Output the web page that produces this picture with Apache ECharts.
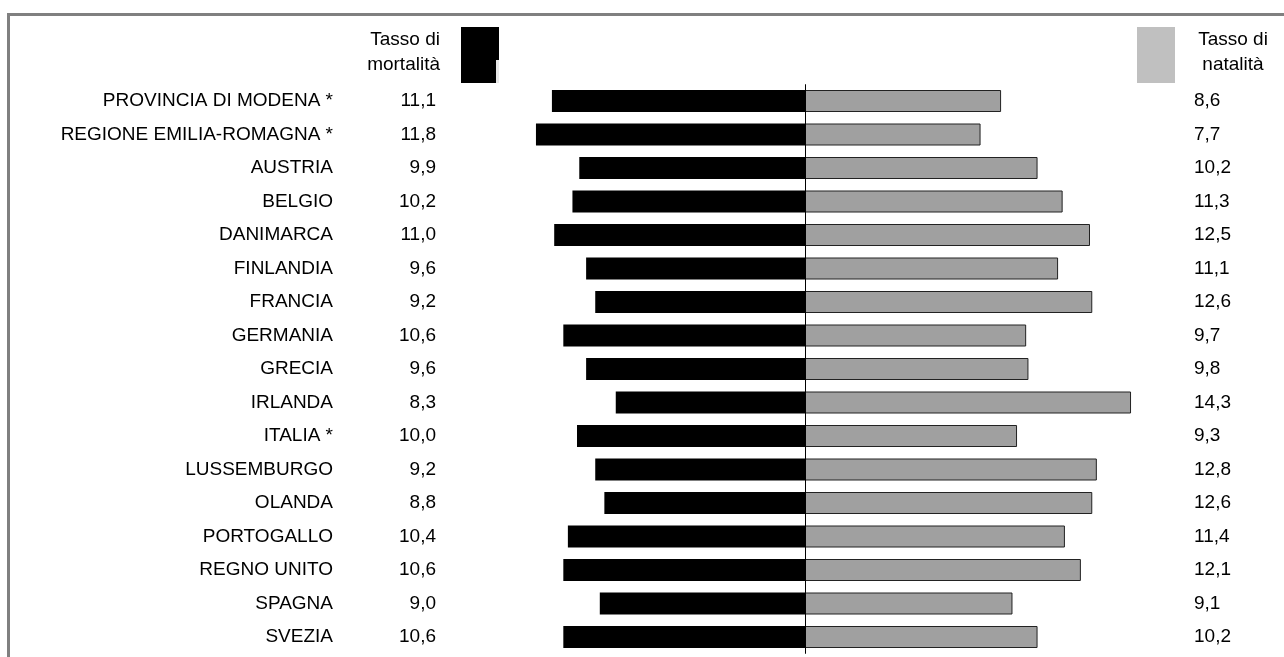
<!DOCTYPE html>
<html>
<head>
<meta charset="utf-8">
<script src="https://cdn.jsdelivr.net/npm/echarts@6/dist/echarts.min.js"></script>
<style>
html,body{margin:0;padding:0;background:#fff;}
#chart{width:1284px;height:657px;}
</style>
</head>
<body>
<div id="chart"></div>
<script>
const countries = ['PROVINCIA DI MODENA *','REGIONE EMILIA-ROMAGNA *','AUSTRIA','BELGIO','DANIMARCA','FINLANDIA','FRANCIA','GERMANIA','GRECIA','IRLANDA','ITALIA *','LUSSEMBURGO','OLANDA','PORTOGALLO','REGNO UNITO','SPAGNA','SVEZIA'];
const mortality = [11.1,11.8,9.9,10.2,11.0,9.6,9.2,10.6,9.6,8.3,10.0,9.2,8.8,10.4,10.6,9.0,10.6];
const natality = [8.6,7.7,10.2,11.3,12.5,11.1,12.6,9.7,9.8,14.3,9.3,12.8,12.6,11.4,12.1,9.1,10.2];
const headerMort = 'Tasso di\nmortalità';
const headerNat = 'Tasso di\nnatalità';

const FONT = "'Liberation Sans', Arial, sans-serif";
const FS = 19;
const fmt = v => v.toFixed(1).replace('.', ',');

const chart = echarts.init(document.getElementById('chart'), null, {renderer: 'canvas'});
const catAxis = (extra) => Object.assign({
  type: 'category', data: countries, inverse: true,
  axisLine: {show: false}, axisTick: {show: false}, splitLine: {show: false}
}, extra);

chart.setOption({
  animation: false,
  backgroundColor: '#fff',
  grid: {left: 463, right: 137, top: 84.25, bottom: 3.25},
  xAxis: {type: 'value', min: -15, max: 15, show: false},
  yAxis: [
    catAxis({position: 'left', axisLabel: {margin: 130, fontSize: FS, fontFamily: FONT, color: '#000'}}),
    catAxis({position: 'left', axisLabel: {margin: 27, fontSize: FS, fontFamily: FONT, color: '#000',
      formatter: (v, i) => fmt(mortality[i])}}),
    catAxis({position: 'right', axisLabel: {margin: 47, fontSize: FS, fontFamily: FONT, color: '#000', align: 'left',
      formatter: (v, i) => fmt(natality[i])}})
  ],
  series: [
    {
      name: 'Tasso di mortalità', type: 'bar', yAxisIndex: 0, barWidth: 22, barGap: '-100%',
      data: mortality.map(v => -v),
      itemStyle: {color: '#000'}
    },
    {
      name: 'Tasso di natalità', type: 'bar', yAxisIndex: 0, barWidth: 22,
      data: natality,
      itemStyle: {color: '#a0a0a0', borderColor: '#222', borderWidth: 1},
      markLine: {
        silent: true, symbol: 'none', label: {show: false},
        lineStyle: {color: '#000', width: 1, type: 'solid'},
        data: [{xAxis: 0}]
      }
    }
  ],
  graphic: [
    {type: 'polyline', shape: {points: [[8.5, 657], [8.5, 14.5], [1284, 14.5]]},
      style: {stroke: '#808080', lineWidth: 3, fill: null}},
    {type: 'rect', shape: {x: 461, y: 27, width: 38, height: 56}, style: {fill: '#000'}},
    {type: 'rect', shape: {x: 496, y: 60, width: 3, height: 23}, style: {fill: '#e8e8e8'}},
    {type: 'rect', shape: {x: 1137, y: 27, width: 38, height: 56}, style: {fill: '#c0c0c0'}},
    {type: 'text', x: 440, y: 77, style: {text: headerMort, textAlign: 'right', textVerticalAlign: 'bottom',
      font: FS + 'px ' + FONT, fill: '#000', lineHeight: 25}},
    {type: 'text', x: 1233, y: 77, style: {text: headerNat, textAlign: 'center', textVerticalAlign: 'bottom',
      font: FS + 'px ' + FONT, fill: '#000', lineHeight: 25}}
  ]
});
</script>
</body>
</html>
